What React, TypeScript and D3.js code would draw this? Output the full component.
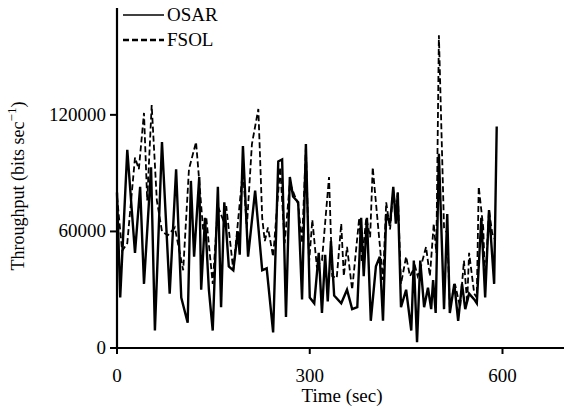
import React from 'react';
import * as d3 from 'd3';

// throughput samples (time in sec, bits/sec)
const osarTime = [0, 5, 16, 28, 36, 42, 53, 59, 70, 82, 92, 100, 110, 115, 120, 128, 131, 137, 143, 149, 157, 162, 167, 174, 181, 188, 191, 196, 204, 215, 226, 233, 243, 251, 257, 263, 269, 274, 282, 288, 294, 300, 307, 314, 319, 324, 328, 333, 338, 349, 358, 366, 374, 380, 384, 389, 395, 403, 409, 414, 419, 425, 430, 434, 437, 442, 450, 458, 462, 467, 472, 478, 484, 489, 492, 496, 501, 509, 514, 518, 525, 531, 537, 542, 548, 556, 560, 567, 573, 579, 587, 591];
const osarValue = [80000, 26000, 102000, 49000, 83000, 33000, 93000, 9000, 106000, 28000, 92000, 26000, 13000, 86000, 47000, 88000, 30000, 67000, 30000, 9000, 83000, 21000, 75000, 42000, 40000, 60000, 48000, 104000, 47000, 81000, 40000, 41000, 8000, 96000, 97000, 16000, 88000, 78000, 75000, 25000, 105000, 26000, 23000, 49000, 18000, 48000, 24000, 55000, 27000, 23000, 30000, 20000, 21000, 67000, 37000, 67000, 14000, 42000, 47000, 14000, 69000, 64000, 83000, 64000, 80000, 21000, 30000, 9000, 45000, 3000, 45000, 21000, 31000, 20000, 35000, 18000, 100000, 20000, 69000, 18000, 33000, 14000, 33000, 20000, 28000, 25000, 23000, 67000, 26000, 71000, 33000, 114000];

const fsolTime = [0, 8, 16, 28, 34, 42, 47, 54, 62, 70, 79, 90, 103, 112, 123, 128, 134, 139, 149, 157, 165, 170, 181, 188, 196, 202, 210, 220, 226, 230, 235, 243, 254, 261, 269, 277, 282, 288, 294, 299, 304, 311, 319, 330, 335, 342, 349, 353, 358, 366, 377, 381, 388, 394, 398, 406, 414, 419, 425, 430, 434, 437, 442, 450, 456, 464, 468, 473, 481, 487, 493, 497, 501, 509, 514, 518, 526, 534, 540, 545, 548, 556, 560, 563, 570, 573, 579, 584, 588];
const fsolValue = [78000, 50000, 54000, 98000, 92000, 121000, 76000, 125000, 76000, 60000, 58000, 62000, 40000, 92000, 106000, 86000, 61000, 67000, 33000, 73000, 66000, 73000, 40000, 64000, 92000, 62000, 105000, 123000, 67000, 55000, 62000, 47000, 93000, 54000, 85000, 78000, 74000, 54000, 103000, 44000, 66000, 42000, 45000, 88000, 37000, 36000, 64000, 37000, 52000, 30000, 67000, 44000, 67000, 57000, 93000, 64000, 35000, 75000, 61000, 81000, 71000, 80000, 33000, 47000, 37000, 42000, 37000, 42000, 52000, 37000, 64000, 49000, 161000, 62000, 59000, 21000, 33000, 21000, 45000, 23000, 49000, 28000, 26000, 83000, 62000, 33000, 71000, 59000, 56000];

const xTicks = [0, 300, 600];
const yTicks = [0, 60000, 120000];
const seriesNames = ['OSAR', 'FSOL'];

const W = 564;
const H = 409;
const font = 'Liberation Serif, Times New Roman, serif';

const App = () => {
    const x = d3.scaleLinear().domain([0, 700]).range([117, 566.75]);
    const y = d3.scaleLinear().domain([0, 175000]).range([348, 8]);

    const line = d3
        .line<[number, number]>()
        .x(d => x(d[0]))
        .y(d => y(d[1]));

    const osar = osarTime.map((t, i) => [t, osarValue[i]] as [number, number]);
    const fsol = fsolTime.map((t, i) => [t, fsolValue[i]] as [number, number]);

    const x0 = x(0);
    const y0 = y(0);

    return (
        <svg
            width={W}
            height={H}
            style={{ position: 'absolute', left: 0, top: 0, background: '#fff', fontFamily: font }}
        >
            {/* series */}
            <path d={line(fsol) || ''} fill="none" stroke="#000" strokeWidth={1.8} strokeDasharray="6,3" />
            <path d={line(osar) || ''} fill="none" stroke="#000" strokeWidth={2.4} />

            {/* axes */}
            <line x1={x0} x2={W} y1={y0} y2={y0} stroke="#000" strokeWidth={2.2} />
            <line x1={x0} x2={x0} y1={y(175000)} y2={y0 + 1} stroke="#000" strokeWidth={2.2} />
            {xTicks.map(t => (
                <g key={'x' + t}>
                    <line x1={x(t)} x2={x(t)} y1={y0} y2={y0 + 6} stroke="#000" strokeWidth={2} />
                    <text x={x(t)} y={y0 + 34} textAnchor="middle" fontSize={19}>{t}</text>
                </g>
            ))}
            {yTicks.map(t => (
                <g key={'y' + t}>
                    <line x1={x0 - 7} x2={x0} y1={y(t)} y2={y(t)} stroke="#000" strokeWidth={2} />
                    <text x={x0 - 11} y={y(t) + 6} textAnchor="end" fontSize={19}>{t}</text>
                </g>
            ))}

            {/* axis titles */}
            <text x={342} y={402} textAnchor="middle" fontSize={19}>Time (sec)</text>
            <text transform="translate(24,186) rotate(-90)" textAnchor="middle" fontSize={18}>
                Throughput (bits sec
                <tspan dy={-8} fontSize={13}>−1</tspan>
                <tspan dy={8}>)</tspan>
            </text>

            {/* legend */}
            {seriesNames.map((name, i) => (
                <g key={name}>
                    <line
                        x1={123}
                        x2={164}
                        y1={15 + i * 25}
                        y2={15 + i * 25}
                        stroke="#000"
                        strokeWidth={i === 0 ? 1.6 : 2.4}
                        strokeDasharray={i === 0 ? undefined : '6,3'}
                    />
                    <text x={167} y={21 + i * 25} fontSize={19}>{name}</text>
                </g>
            ))}
        </svg>
    );
};

export default App;
